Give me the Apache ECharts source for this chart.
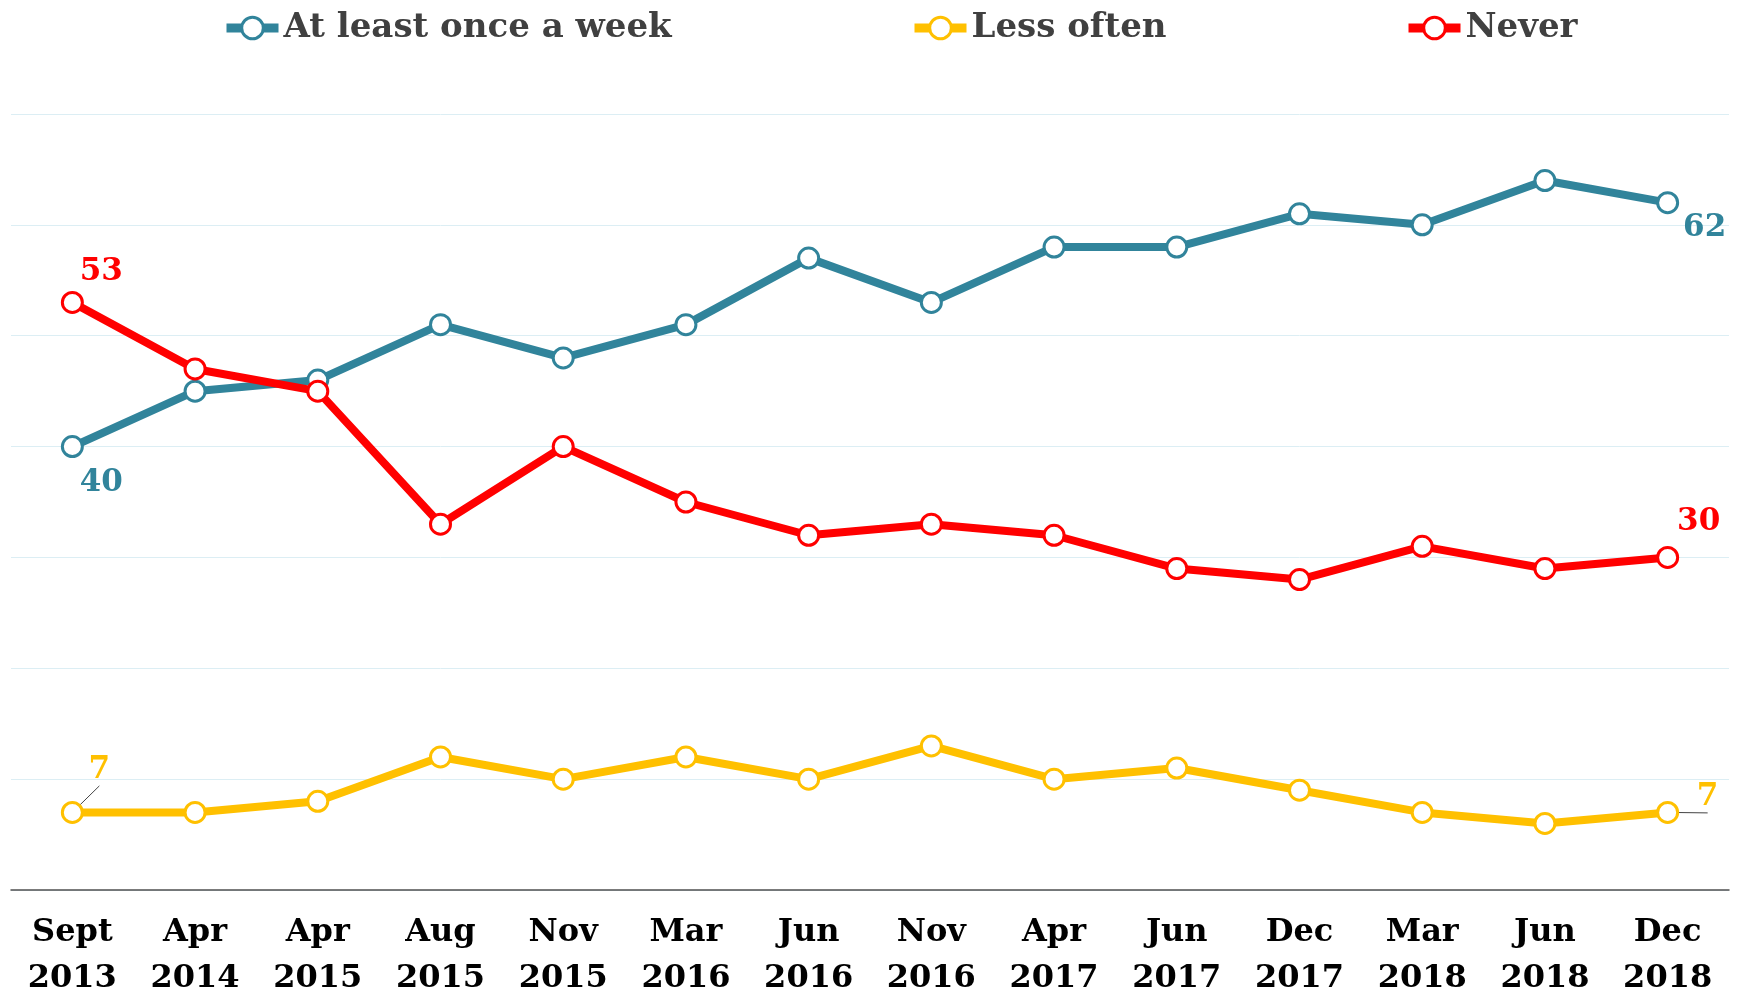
<!DOCTYPE html>
<html>
<head>
<meta charset="utf-8">
<title>Frequency over time</title>
<script src="https://cdn.jsdelivr.net/npm/echarts@6/dist/echarts.min.js"></script>
<style>
  html, body { margin: 0; padding: 0; background: #ffffff; }
  #chart { width: 1742px; height: 996px; }
</style>
</head>
<body>
<div id="chart"></div>
<script>
// Survey waves (x axis)
const categories = [
  'Sept\n2013', 'Apr\n2014', 'Apr\n2015', 'Aug\n2015', 'Nov\n2015', 'Mar\n2016', 'Jun\n2016',
  'Nov\n2016', 'Apr\n2017', 'Jun\n2017', 'Dec\n2017', 'Mar\n2018', 'Jun\n2018', 'Dec\n2018'
];

// Share of respondents (%)
const weeklyValues = [40, 45, 46, 51, 48, 51, 57, 53, 58, 58, 61, 60, 64, 62];
const lessOftenValues = [7, 7, 8, 12, 10, 12, 10, 13, 10, 11, 9, 7, 6, 7];
const neverValues = [53, 47, 45, 33, 40, 35, 32, 33, 32, 29, 28, 31, 29, 30];

const seriesNames = ['At least once a week', 'Less often', 'Never'];

const FONT = 'DejaVu Serif';
const BLUE = '#31849B';
const YELLOW = '#FFC000';
const RED = '#FF0000';
const LINE_WIDTH = 8;

// Attach an end label to the first and last point of a series
function withEndLabels(values, color, firstOffset, lastOffset, guide) {
  const last = values.length - 1;
  return values.map((v, i) => {
    if (i !== 0 && i !== last) return v;
    const item = {
      value: v,
      label: {
        show: true,
        position: 'inside',
        offset: i === 0 ? firstOffset : lastOffset,
        color: color,
        fontFamily: FONT,
        fontWeight: 'bold',
        fontSize: 31
      }
    };
    if (guide) {
      item.labelLine = { show: true, lineStyle: { color: '#444444', width: 1 } };
    }
    return item;
  });
}

function lineSeries(name, values, color, firstOffset, lastOffset, guide) {
  return {
    name: name,
    type: 'line',
    data: withEndLabels(values, color, firstOffset, lastOffset, guide),
    symbol: 'circle',
    symbolSize: 20,
    showAllSymbol: true,
    lineStyle: { color: color, width: LINE_WIDTH },
    itemStyle: { color: '#ffffff', borderColor: color, borderWidth: 3 },
    label: { show: false },
    emphasis: { disabled: true },
    animation: false
  };
}

function legendAt(name, left) {
  return {
    data: [name],
    left: left,
    top: 6,
    itemWidth: 52,
    itemHeight: 27,
    itemGap: 0,
    lineStyle: { width: 9 },
    itemStyle: { borderWidth: 3 },
    textStyle: { color: '#404040', fontFamily: FONT, fontWeight: 'bold', fontSize: 34 }
  };
}

const chart = echarts.init(document.getElementById('chart'));
chart.setOption({
  backgroundColor: '#ffffff',
  legend: [
    legendAt(seriesNames[0], 217),
    legendAt(seriesNames[1], 905),
    legendAt(seriesNames[2], 1399)
  ],
  grid: {
    left: 11, right: 13, top: 114, bottom: 106,
    containLabel: false,
    outerBoundsMode: 'none'
  },
  xAxis: {
    type: 'category',
    data: categories,
    boundaryGap: true,
    axisLine: { lineStyle: { color: '#505050', width: 1.5 } },
    axisTick: { show: false },
    axisLabel: {
      color: '#000000',
      fontFamily: FONT,
      fontWeight: 'bold',
      fontSize: 32,
      lineHeight: 46,
      margin: 20,
      interval: 0
    }
  },
  yAxis: {
    type: 'value',
    min: 0,
    max: 70,
    interval: 10,
    axisLabel: { show: false },
    axisLine: { show: false },
    axisTick: { show: false },
    splitLine: { lineStyle: { color: '#DCEEF4', width: 1 } }
  },
  series: [
    lineSeries(seriesNames[0], weeklyValues, BLUE, [29, 36], [37, 25], false),
    lineSeries(seriesNames[1], lessOftenValues, YELLOW, [27, -42], [40, -15], true),
    lineSeries(seriesNames[2], neverValues, RED, [29, -31], [31, -35], false)
  ]
});
</script>
</body>
</html>
